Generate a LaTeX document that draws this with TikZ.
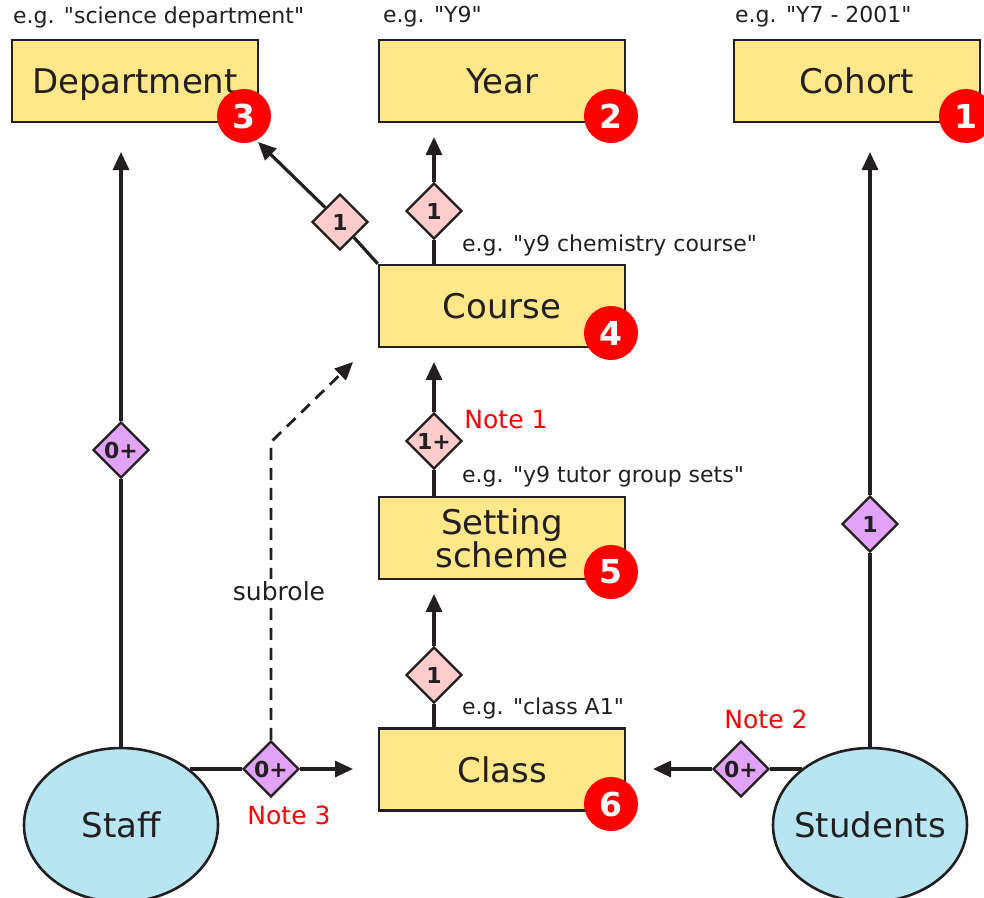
\documentclass[tikz,border=0pt]{standalone}
\usepackage{fontspec}
\setmainfont{DejaVu Sans}[Ligatures=TeXOff]
\usetikzlibrary{shapes.geometric,arrows.meta}
\definecolor{boxfill}{HTML}{FFE78A}
\definecolor{ink}{HTML}{231F20}
\definecolor{pinkd}{HTML}{FFCCCC}
\definecolor{purpd}{HTML}{E0A3F7}
\definecolor{ellfill}{HTML}{B8E5F2}
\definecolor{badgered}{HTML}{FF0000}
\definecolor{notered}{HTML}{FF0000}
\tikzset{
  entity/.style={draw=ink, line width=2.6pt, fill=boxfill, minimum width=246pt, minimum height=82pt, inner sep=0pt, align=center, font=\fontsize{34}{33}\selectfont, text=ink},
  oneline/.style={text height=25pt, text depth=0pt},
  actor/.style={ellipse, draw=ink, line width=2.6pt, fill=ellfill, minimum width=194pt, minimum height=154pt, inner sep=0pt},
  actortext/.style={inner sep=0pt, font=\fontsize{34}{38}\selectfont, text=ink, text height=25pt, text depth=0pt},
  badge/.style={circle, fill=badgered, minimum size=54pt, inner sep=0pt, text=white, font=\fontsize{33}{33}\bfseries\selectfont},
  pinkdia/.style={diamond, draw=ink, line width=2.4pt, fill=pinkd, minimum width=56pt, minimum height=56pt, inner sep=0pt, font=\fontsize{22}{22}\bfseries\selectfont, text=ink},
  purpdia/.style={diamond, draw=ink, line width=2.4pt, fill=purpd, minimum width=56pt, minimum height=56pt, inner sep=0pt, font=\fontsize{22}{22}\bfseries\selectfont, text=ink},
  example/.style={anchor=west, inner sep=0pt, font=\fontsize{22}{22}\selectfont, text=ink},
  notelab/.style={inner sep=0pt, font=\fontsize{25}{25}\selectfont, text=notered},
  conn/.style={draw=ink, line width=3.2pt},
  arr/.style={conn, -{Triangle[length=18pt,width=16pt]}},
}
\begin{document}
\begin{tikzpicture}[x=1pt,y=-1pt]
\useasboundingbox (0,0) rectangle (984,897);

% entity boxes
\node[entity, oneline] (dept)   at (135,81)  {Department};
\node[entity, oneline] (year)   at (502,81)  {Year};
\node[entity, oneline] (cohort) at (857,81)  {Cohort};
\node[entity, oneline] (course) at (502,306) {Course};
\node[entity] (setting) at (502,538) {Setting\\scheme};
\node[entity, oneline] (class)  at (502,769.5) {Class};

% actors
\node[actor] (staff)    at (121,825) {};
\node[actortext] (stafftext) at (staff.center) {Staff};
\node[actor] (students) at (870,825) {};
\node[actortext] (studtext) at (students.center) {Students};

% example labels
\node[example] (exdept)   at (13,17)  {e.g. "science department"};
\node[example] (exyear)   at (383,17) {e.g. "Y9"};
\node[example] (excohort) at (735,17) {e.g. "Y7 - 2001"};
\node[example] (excourse) at (462,245) {e.g. "y9 chemistry course"};
\node[example] (exset)    at (462,477) {e.g. "y9 tutor group sets"};
\node[example] (exclass)  at (462,708) {e.g. "class A1"};

% multiplicity diamonds
\node[pinkdia] (dyear)  at (434,211) {1};
\node[pinkdia] (ddept)  at (340,222) {1};
\node[pinkdia] (dcourse) at (434,441) {1+};
\node[pinkdia] (dset)   at (434,675) {1};
\node[purpdia] (dstaff) at (121,450) {0+};
\node[purpdia] (dstud)  at (870,524) {1};
\node[purpdia] (dsc)    at (271,769) {0+};
\node[purpdia] (dstc)   at (741,769) {0+};

% connector end points
\coordinate (cyb) at (434,265);
\coordinate (cyt) at (434,137);
\coordinate (cdt) at (258,142);
\coordinate (csb) at (434,497);
\coordinate (cst) at (434,362);
\coordinate (ccb) at (434,728);
\coordinate (cct) at (434,594);
\coordinate (cstafftip) at (121,152);
\coordinate (cstudtip) at (870,152);
\coordinate (cstaffr) at (190,769);
\coordinate (cclassl) at (353,769);
\coordinate (cstudl) at (802,769);
\coordinate (cclassr) at (653,769);
\coordinate (cbend) at (271,442);
\coordinate (csubtip) at (353,362);

% connectors
\draw[conn] (cyb) -- (dyear);
\draw[arr] (dyear) -- (cyt);
\draw[conn] (course.north west) -- (ddept);
\draw[arr] (ddept) -- (cdt);
\draw[conn] (csb) -- (dcourse);
\draw[arr] (dcourse) -- (cst);
\draw[conn] (ccb) -- (dset);
\draw[arr] (dset) -- (cct);
\draw[conn] (staff.north) -- (dstaff);
\draw[arr] (dstaff) -- (cstafftip);
\draw[conn] (students.north) -- (dstud);
\draw[arr] (dstud) -- (cstudtip);
\draw[conn] (cstaffr) -- (dsc);
\draw[arr] (dsc) -- (cclassl);
\draw[conn] (cstudl) -- (dstc);
\draw[arr] (dstc) -- (cclassr);
\draw[arr, dash pattern=on 12pt off 8pt, line width=2.8pt] (dsc.north) -- (cbend) -- (csubtip);

\node[fill=white, inner sep=2pt, font=\fontsize{25}{25}\selectfont, text=ink] (subrole) at (279,591) {subrole};

% notes
\node[notelab] (note1) at (506,420) {Note 1};
\node[notelab] (note2) at (766,719) {Note 2};
\node[notelab] (note3) at (289,815) {Note 3};

% badges
\node[badge] (b3) at (244,116) {3};
\node[badge] (b2) at (611,116) {2};
\node[badge] (b1) at (966,116) {1};
\node[badge] (b4) at (611,333) {4};
\node[badge] (b5) at (611,572) {5};
\node[badge] (b6) at (611,804) {6};
\end{tikzpicture}
\end{document}
